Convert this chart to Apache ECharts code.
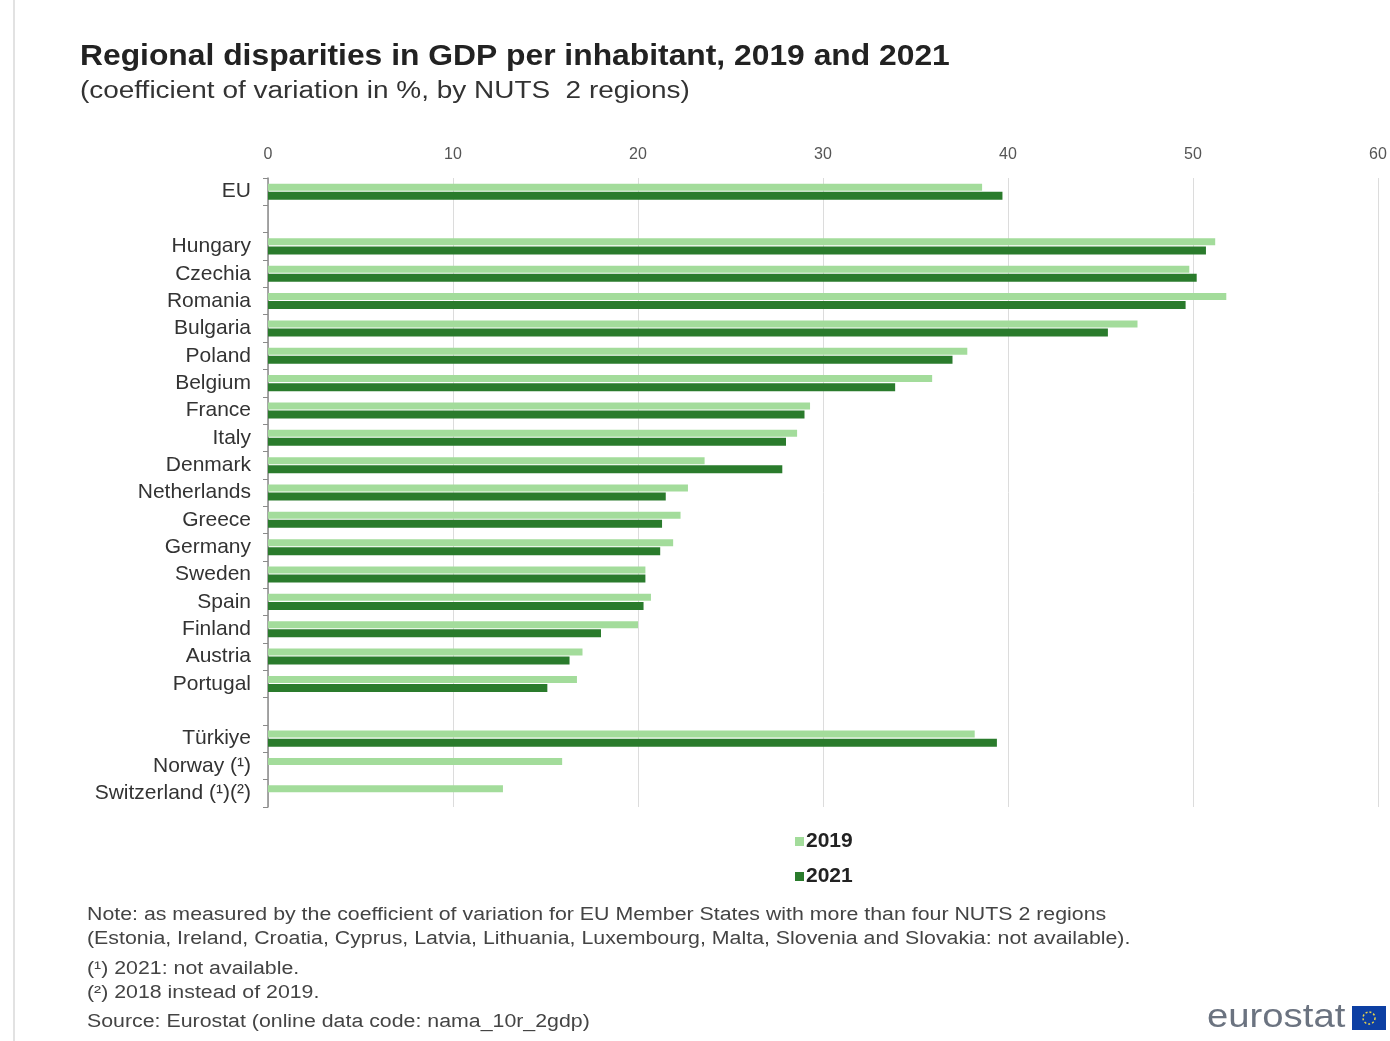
<!DOCTYPE html>
<html>
<head>
<meta charset="utf-8">
<script src="https://cdn.jsdelivr.net/npm/echarts@6/dist/echarts.min.js"></script>
<style>
html,body{margin:0;padding:0;background:#fff;}
#c{width:1390px;height:1041px;}
</style>
</head>
<body>
<div id="c"></div>
<script>
// Data (coefficient of variation in %, by NUTS 2 regions)
const categories = ['EU', '', 'Hungary', 'Czechia', 'Romania', 'Bulgaria', 'Poland', 'Belgium', 'France', 'Italy', 'Denmark', 'Netherlands', 'Greece', 'Germany', 'Sweden', 'Spain', 'Finland', 'Austria', 'Portugal', ' ', 'Türkiye', 'Norway (¹)', 'Switzerland (¹)(²)'];
const values2019 = [38.6, null, 51.2, 49.8, 51.8, 47.0, 37.8, 35.9, 29.3, 28.6, 23.6, 22.7, 22.3, 21.9, 20.4, 20.7, 20.0, 17.0, 16.7, null, 38.2, 15.9, 12.7];
const values2021 = [39.7, null, 50.7, 50.2, 49.6, 45.4, 37.0, 33.9, 29.0, 28.0, 27.8, 21.5, 21.3, 21.2, 20.4, 20.3, 18.0, 16.3, 15.1, null, 39.4, null, null];
const xTicks = {min: 0, max: 60, interval: 10};
const seriesNames = ['2019', '2021'];

const chart = echarts.init(document.getElementById('c'));
const FONT = '"Liberation Sans", Arial, sans-serif';
function txt(x, y, text, font, fill, sx) {
  return {type: 'text', x: x, y: y, scaleX: sx, scaleY: 1,
    style: {text: text, font: font, fill: fill, textVerticalAlign: 'top', textAlign: 'left'}};
}
chart.setOption({
  backgroundColor: '#ffffff',
  textStyle: {fontFamily: FONT},
  animation: false,
  grid: {left: 268, right: 12, top: 178, bottom: 234, containLabel: false},
  legend: {
    orient: 'vertical', left: 790, top: 826,
    itemWidth: 9, itemHeight: 9, itemGap: 14,
    icon: 'rect',
    data: seriesNames,
    textStyle: {fontSize: 21, fontWeight: 'bold', color: '#222', fontFamily: FONT, padding: [0, 0, 0, -3]}
  },
  xAxis: {
    type: 'value', position: 'top',
    min: xTicks.min, max: xTicks.max, interval: xTicks.interval,
    axisLine: {show: false},
    axisTick: {show: false},
    splitLine: {show: true, lineStyle: {color: '#dcdcdc', width: 1}},
    axisLabel: {color: '#555', fontSize: 16, margin: 15, fontFamily: FONT}
  },
  yAxis: {
    type: 'category', inverse: true, data: categories,
    axisLine: {show: true, lineStyle: {color: '#8a8a8a', width: 1.5}},
    axisTick: {show: true, length: 5, lineStyle: {color: '#8a8a8a'}},
    axisLabel: {color: '#333', fontSize: 21, margin: 17, fontFamily: FONT}
  },
  series: [
    {name: seriesNames[0], type: 'bar', data: values2019, barWidth: 7, barGap: '15%',
     itemStyle: {color: '#a3dc9b'}},
    {name: seriesNames[1], type: 'bar', data: values2021, barWidth: 8,
     itemStyle: {color: '#2a7b2c'}}
  ],
  graphic: [
    {type: 'line', shape: {x1: 14, y1: 0, x2: 14, y2: 1041}, style: {stroke: '#e2e2e2', lineWidth: 2}},
    txt(80, 42, 'Regional disparities in GDP per inhabitant, 2019 and 2021', 'bold 29px ' + FONT, '#222', 1.097),
    txt(80, 80, '(coefficient of variation in %, by NUTS  2 regions)', '23px ' + FONT, '#333', 1.215),
    txt(87, 906, 'Note: as measured by the coefficient of variation for EU Member States with more than four NUTS 2 regions', '18px ' + FONT, '#444', 1.185),
    txt(87, 930, '(Estonia, Ireland, Croatia, Cyprus, Latvia, Lithuania, Luxembourg, Malta, Slovenia and Slovakia: not available).', '18px ' + FONT, '#444', 1.185),
    txt(87, 960, '(¹) 2021: not available.', '18px ' + FONT, '#444', 1.185),
    txt(87, 984, '(²) 2018 instead of 2019.', '18px ' + FONT, '#444', 1.185),
    txt(87, 1013, 'Source: Eurostat (online data code: nama_10r_2gdp)', '18px ' + FONT, '#444', 1.185),
    txt(1207, 1001, 'eurostat', '33px ' + FONT, '#6b7380', 1.16),
    {type: 'rect', shape: {x: 1352, y: 1006, width: 34, height: 24}, style: {fill: '#0d3fa3'}},
    {type: 'circle', shape: {cx: 1369, cy: 1018, r: 6}, style: {fill: 'none', stroke: '#e8d44a', lineWidth: 1.5, lineDash: [2, 2]}}
  ]
});
</script>
</body>
</html>
